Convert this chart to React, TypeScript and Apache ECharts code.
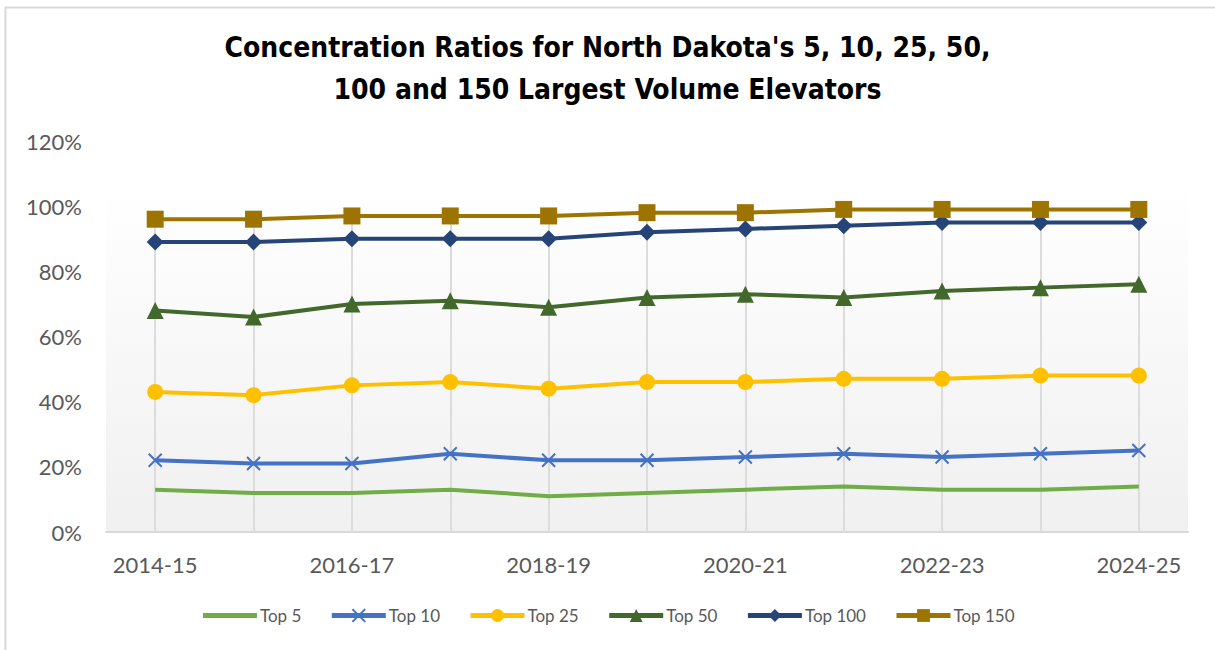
import React, { useEffect, useRef } from "react";
import * as echarts from "echarts";

const categories = ["2014-15","2015-16","2016-17","2017-18","2018-19","2019-20","2020-21","2021-22","2022-23","2023-24","2024-25"];
const top5 = [13, 12, 12, 13, 11, 12, 13, 14, 13, 13, 14];
const top10 = [22, 21, 21, 24, 22, 22, 23, 24, 23, 24, 25];
const top25 = [43, 42, 45, 46, 44, 46, 46, 47, 47, 48, 48];
const top50 = [68, 66, 70, 71, 69, 72, 73, 72, 74, 75, 76];
const top100 = [89, 89, 90, 90, 90, 92, 93, 94, 95, 95, 95];
const top150 = [96, 96, 97, 97, 97, 98, 98, 99, 99, 99, 99];
const seriesNames = ["Top 5", "Top 10", "Top 25", "Top 50", "Top 100", "Top 150"];

const titleText = "Concentration Ratios for North Dakota's 5, 10, 25, 50,\n100 and 150 Largest Volume Elevators";

const FONT = "Lato";

export default function App() {
  const ref = useRef<HTMLDivElement>(null);
  useEffect(() => {
    if (!ref.current) return;
    const chart = echarts.init(ref.current, null, { renderer: "svg" });
    const mk = (name: string, data: number[], color: string, symbol: string, size: number, extra: any = {}) => ({
      name,
      type: "line",
      data,
      symbol,
      symbolSize: size,
      showSymbol: symbol !== "none",
      lineStyle: { color, width: 4 },
      itemStyle: { color },
      z: 3,
      ...extra,
    });
    chart.setOption({
      animation: false,
      backgroundColor: "#ffffff",
      title: {
        text: titleText,
        left: "center",
        top: 21,
        textStyle: {
          fontFamily: "'DejaVu Sans Condensed', 'DejaVu Sans'",
          fontWeight: "bold",
          fontSize: 28,
          lineHeight: 42,
          color: "#000000",
        },
      },
      graphic: [
        {
          type: "rect",
          shape: { x: 106, y: 187, width: 1082, height: 345 },
          style: {
            fill: new echarts.graphic.LinearGradient(0, 0, 0, 1, [
              { offset: 0, color: "#ffffff" },
              { offset: 1, color: "#f0f0f0" },
            ]),
          },
          z: -10,
          silent: true,
        },
        { type: "line", shape: { x1: 5.5, y1: 7, x2: 5.5, y2: 650 }, style: { stroke: "#d9d9d9", lineWidth: 2 }, z: 10 },
        { type: "line", shape: { x1: 5, y1: 7.5, x2: 1215, y2: 7.5 }, style: { stroke: "#d9d9d9", lineWidth: 2 }, z: 10 },
      ],
      grid: { left: 106, right: 27, top: 141, bottom: 118, containLabel: false },
      xAxis: {
        type: "category",
        data: categories,
        boundaryGap: true,
        axisLine: { lineStyle: { color: "#d9d9d9", width: 2 } },
        axisTick: { show: false },
        axisLabel: {
          interval: 1,
          color: "#595959",
          fontFamily: FONT,
          fontSize: 22,
          margin: 21,
        },
        splitLine: { show: false },
      },
      yAxis: {
        type: "value",
        min: 0,
        max: 120,
        interval: 20,
        axisLine: { show: false },
        axisTick: { show: false },
        splitLine: { show: false },
        axisLabel: {
          formatter: "{value}%",
          color: "#595959",
          fontFamily: FONT,
          fontSize: 22,
          margin: 24,
        },
      },
      legend: {
        bottom: 21,
        left: "center",
        itemWidth: 54,
        itemHeight: 16,
        itemGap: 28,
        lineStyle: { width: 5 },
        textStyle: { color: "#595959", fontFamily: FONT, fontSize: 17, padding: [0, 0, 0, -2] },
        data: seriesNames.map((n, i) => (i === 0 ? { name: n, itemStyle: { opacity: 0 } } : { name: n })),
      },
      series: [
        mk(seriesNames[0], top5, "#70AD47", "none", 0),
        mk(seriesNames[1], top10, "#4472C4", "path://M0,0L10,10M10,0L0,10", 13, {
          itemStyle: { color: "#4472C4", borderColor: "#4472C4", borderWidth: 2 },
        }),
        mk(seriesNames[2], top25, "#FFC000", "circle", 16),
        mk(seriesNames[3], top50, "#43682B", "triangle", 17),
        mk(seriesNames[4], top100, "#264478", "diamond", 17),
        mk(seriesNames[5], top150, "#9E7400", "rect", 17, {
          markLine: {
            silent: true,
            symbol: "none",
            label: { show: false },
            lineStyle: { color: "#dcdcdc", width: 2, type: "solid" },
            z: 1,
            data: categories.map((c, i) => [
              { coord: [c, top150[i]] },
              { coord: [c, 0] },
            ]),
          },
        }),
      ],
    });
    return () => chart.dispose();
  }, []);
  return (
    <div
      ref={ref}
      style={{ position: "absolute", left: 0, top: 0, width: 1215, height: 650 }}
    />
  );
}
